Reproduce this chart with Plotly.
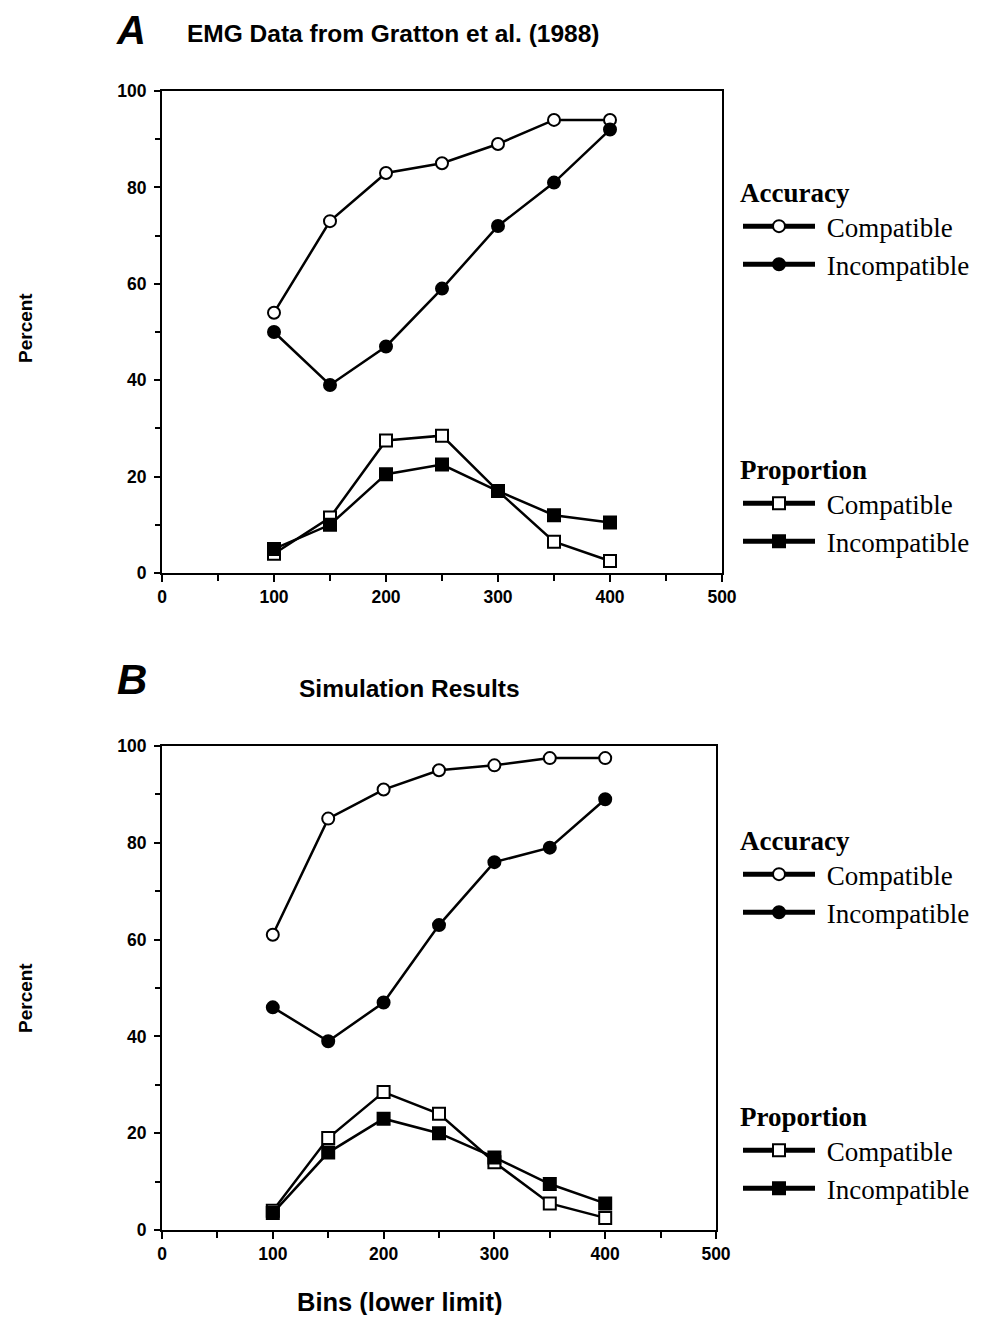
import plotly.graph_objects as go

bins = [100, 150, 200, 250, 300, 350, 400]
x_ticks = [0, 100, 200, 300, 400, 500]
y_ticks = [0, 20, 40, 60, 80, 100]

# Panel A: EMG data
a_acc_comp = [54, 73, 83, 85, 89, 94, 94]
a_acc_incomp = [50, 39, 47, 59, 72, 81, 92]
a_prop_comp = [4, 11.5, 27.5, 28.5, 17, 6.5, 2.5]
a_prop_incomp = [5, 10, 20.5, 22.5, 17, 12, 10.5]

# Panel B: simulation
b_acc_comp = [61, 85, 91, 95, 96, 97.5, 97.5]
b_acc_incomp = [46, 39, 47, 63, 76, 79, 89]
b_prop_comp = [4, 19, 28.5, 24, 14, 5.5, 2.5]
b_prop_incomp = [3.5, 16, 23, 20, 15, 9.5, 5.5]

# page body has an 8px margin: size the figure to fit inside it
OFF = 8
W, H = 989 - 2 * OFF, 1323 - 2 * OFF
SANS = "Liberation Sans, Arial, sans-serif"
SERIF = "Liberation Serif, Times New Roman, serif"

def px_x(p):
    return (p - OFF) / W

def px_y(p):
    return 1 - (p - OFF) / H

fig = go.Figure()
PAD = "\u00a0"

def add(x, y, sym, filled, name, xa, ya, leg):
    fig.add_trace(go.Scatter(
        x=x, y=y, mode="lines+markers", name=PAD + name,
        line=dict(color="black", width=2.5),
        marker=dict(symbol=sym, size=12, color="black" if filled else "white",
                    line=dict(color="black", width=2)),
        xaxis=xa, yaxis=ya, legend=leg, showlegend=True,
    ))

add(bins, a_acc_comp, "circle", False, "Compatible", "x", "y", "legend")
add(bins, a_acc_incomp, "circle", True, "Incompatible", "x", "y", "legend")
add(bins, a_prop_comp, "square", False, "Compatible", "x", "y", "legend2")
add(bins, a_prop_incomp, "square", True, "Incompatible", "x", "y", "legend2")
add(bins, b_acc_comp, "circle", False, "Compatible", "x2", "y2", "legend3")
add(bins, b_acc_incomp, "circle", True, "Incompatible", "x2", "y2", "legend3")
add(bins, b_prop_comp, "square", False, "Compatible", "x2", "y2", "legend4")
add(bins, b_prop_incomp, "square", True, "Incompatible", "x2", "y2", "legend4")

tickfont = dict(family=SANS, size=17.5, color="black")

def xaxis(dom, anchor):
    return dict(domain=dom, anchor=anchor, range=[0, 500], tickvals=x_ticks,
                ticktext=["<b>%d</b>" % v for v in x_ticks], automargin=False,
                ticks="outside", ticklen=7, tickwidth=2, tickcolor="black",
                showline=True, linecolor="black", linewidth=2, mirror=True,
                showgrid=False, zeroline=False, tickfont=tickfont,
                minor=dict(dtick=50, tick0=0, ticks="outside", ticklen=6, tickwidth=2, tickcolor="black", showgrid=False))

def yaxis(dom, anchor):
    return dict(domain=dom, anchor=anchor, range=[0, 100], tickvals=y_ticks,
                ticktext=["<b>%d</b>" % v for v in y_ticks], automargin=False,
                ticks="outside", ticklen=6, tickwidth=2, tickcolor="black", ticklabelstandoff=4,
                showline=True, linecolor="black", linewidth=2, mirror=True,
                showgrid=False, zeroline=False, tickfont=tickfont,
                minor=dict(dtick=10, tick0=0, ticks="outside", ticklen=5, tickwidth=2, tickcolor="black", showgrid=False))

legfont = dict(family=SERIF, size=27, color="black")

def legend(title, x, y):
    return dict(title=dict(text="<b>" + title + "</b>", font=dict(family=SERIF, size=27, color="black")),
                x=px_x(x), y=px_y(y), xanchor="left", yanchor="top",
                font=legfont, bgcolor="rgba(0,0,0,0)", borderwidth=0, tracegroupgap=0,
                itemwidth=72, itemsizing="constant")

fig.update_layout(
    width=W, height=H,
    margin=dict(l=0, r=0, t=0, b=0, autoexpand=False),
    paper_bgcolor="white", plot_bgcolor="white",
    xaxis=xaxis([px_x(162), px_x(722)], "y"),
    yaxis=yaxis([px_y(573), px_y(91)], "x"),
    xaxis2=xaxis([px_x(162), px_x(716)], "y2"),
    yaxis2=yaxis([px_y(1230), px_y(746)], "x2"),
    legend=legend("Accuracy", 738, 167),
    legend2=legend("Proportion", 738, 444),
    legend3=legend("Accuracy", 738, 815),
    legend4=legend("Proportion", 738, 1091),
)

def ann(text, x, y, size, rot=0, family=SANS, xanchor="left"):
    fig.add_annotation(text=text, x=px_x(x), y=px_y(y), xref="paper", yref="paper",
                       showarrow=False, textangle=rot, xanchor=xanchor, yanchor="middle",
                       font=dict(family=family, size=size, color="black"))

ann("<b><i>A</i></b>", 114, 30, 40)
ann("<b>EMG Data from Gratton et al. (1988)</b>", 185, 33, 24.5)
ann("<b><i>B</i></b>", 115, 679, 42)
ann("<b>Simulation Results</b>", 409, 688, 24.5, xanchor="center")
ann("<b>Percent</b>", 25, 328, 19, rot=-90, xanchor="center")
ann("<b>Percent</b>", 25, 998, 19, rot=-90, xanchor="center")
ann("<b>Bins (lower limit)</b>", 399, 1302, 25.5, xanchor="center")

fig.write_html("out.html")
